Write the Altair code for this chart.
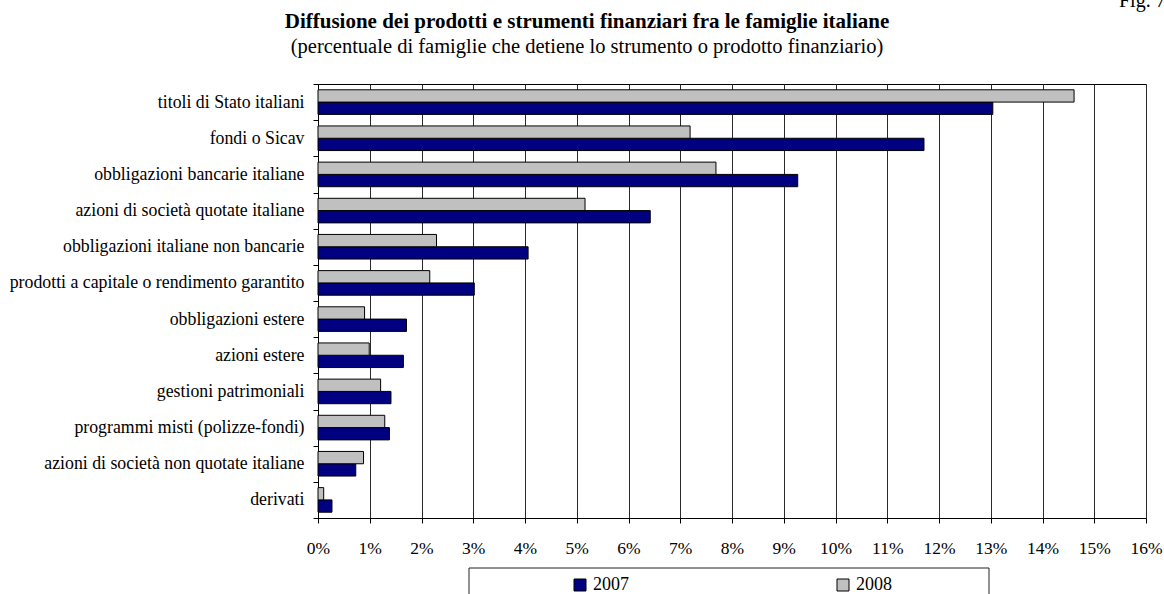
import altair as alt
import pandas as pd

FONT = "Liberation Serif"

# Categorie (dall'alto verso il basso) e quote di famiglie, in percentuale
categorie = [
    "titoli di Stato italiani",
    "fondi o Sicav",
    "obbligazioni bancarie italiane",
    "azioni di società quotate italiane",
    "obbligazioni italiane non bancarie",
    "prodotti a capitale o rendimento garantito",
    "obbligazioni estere",
    "azioni estere",
    "gestioni patrimoniali",
    "programmi misti (polizze-fondi)",
    "azioni di società non quotate italiane",
    "derivati",
]
quote_2007 = [13.04, 11.71, 9.27, 6.42, 4.06, 3.02, 1.71, 1.65, 1.41, 1.38, 0.73, 0.27]
quote_2008 = [14.61, 7.19, 7.69, 5.16, 2.29, 2.16, 0.90, 0.99, 1.21, 1.29, 0.88, 0.11]
anni = ["2007", "2008"]
colori = ["#000080", "#C0C0C0"]
tacche_x = list(range(0, 17))

titolo = "Diffusione dei prodotti e strumenti finanziari fra le famiglie italiane"
sottotitolo = "(percentuale di famiglie che detiene lo strumento o prodotto finanziario)"
figura = "Fig. 7."

righe = []
for anno, serie in zip(anni, [quote_2007, quote_2008]):
    for cat, v in zip(categorie, serie):
        righe.append({"categoria": cat, "anno": anno, "valore": v})
df = pd.DataFrame(righe)

barre = alt.Chart(df).mark_bar(stroke="black", strokeWidth=1).encode(
    x=alt.X(
        "valore:Q",
        scale=alt.Scale(domain=[0, 16], nice=False, zero=True),
        axis=alt.Axis(
            values=tacche_x,
            labelExpr="datum.value + '%'",
            labelFlush=False,
            labelOverlap=False,
            title=None,
            grid=True,
            gridColor="#2a2a2a",
            gridWidth=1,
            domainColor="black",
            tickColor="black",
            tickSize=5,
            labelPadding=16,
            labelFont=FONT,
            labelFontSize=17.5,
            labelColor="black",
        ),
    ),
    y=alt.Y(
        "categoria:N",
        sort=categorie,
        scale=alt.Scale(paddingInner=0, paddingOuter=0),
        axis=alt.Axis(
            title=None,
            tickBand="extent",
            tickSize=5,
            tickColor="black",
            domainColor="black",
            labelPadding=9,
            labelFont=FONT,
            labelFontSize=17.8,
            labelColor="black",
            labelLimit=500,
        ),
    ),
    yOffset=alt.YOffset(
        "anno:N",
        sort=["2008", "2007"],
        scale=alt.Scale(paddingInner=0, paddingOuter=0.47),
    ),
    color=alt.Color(
        "anno:N",
        scale=alt.Scale(domain=anni, range=colori),
        legend=alt.Legend(
            title=None,
            orient="none",
            legendX=151,
            legendY=484,
            direction="horizontal",
            symbolType="square",
            symbolSize=144,
            symbolStrokeColor="black",
            symbolStrokeWidth=1,
            symbolOffset=94,
            labelOffset=4,
            columnPadding=111,
            labelFont=FONT,
            labelFontSize=18,
            labelColor="black",
            padding=8,
        ),
    ),
)

# cornice della legenda (si estende oltre il bordo inferiore)
cornice = alt.Chart(alt.Data(values=[{"c": 1}])).mark_rect(
    fill="white", stroke="#222222", strokeWidth=1
).encode(
    x=alt.value(151), x2=alt.value(671), y=alt.value(484), y2=alt.value(530)
)


def testo(t, x, y, size, weight="normal", align="center"):
    return alt.Chart(alt.Data(values=[{"t": t}])).mark_text(
        font=FONT,
        fontSize=size,
        fontWeight=weight,
        align=align,
        baseline="alphabetic",
        color="black",
    ).encode(x=alt.value(x), y=alt.value(y), text="t:N")


chart = alt.layer(
    barre,
    cornice,
    testo(titolo, 269, -56, 21, weight="bold"),
    testo(sottotitolo, 269, -31, 20.5),
    testo(figura, 801, -77, 20, align="left"),
).properties(
    width=828,
    height=434,
    autosize=alt.AutoSizeParams(type="none"),
    padding={"left": 318, "top": 84, "right": 18, "bottom": 76},
    background="white",
).configure_view(stroke="black", strokeWidth=1)

chart.save("out.html", embed_options={"renderer": "svg", "actions": False})
